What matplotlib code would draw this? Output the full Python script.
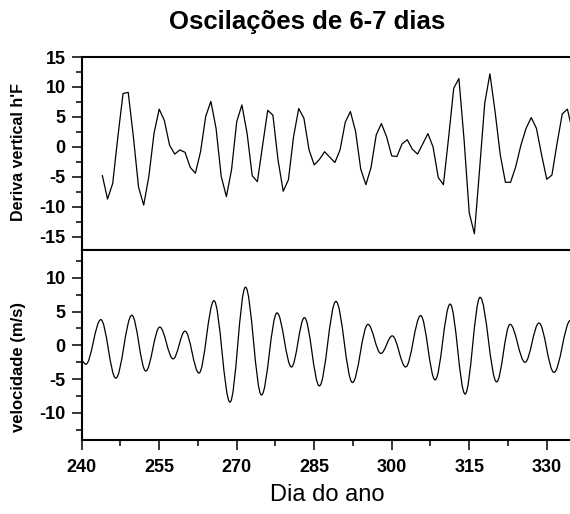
import matplotlib
matplotlib.use("Agg")
import matplotlib.pyplot as plt
from matplotlib.path import Path
from matplotlib.patches import PathPatch
from matplotlib.ticker import MultipleLocator

# ---- data ----
# top panel: daily h'F vertical drift (filtered)
drift_days = list(range(244, 336))
drift_vals = [-4.8, -8.7, -6.1, 1.7, 8.9, 9.1, 1.7, -6.7, -9.7, -4.9,
              2.3, 6.3, 4.4, 0.3, -1.2, -0.5, -0.9, -3.4, -4.4, -0.8,
              5.1, 7.6, 3.1, -4.9, -8.3, -3.8, 4.2, 7.0, 2.3, -4.8,
              -5.8, 0.2, 6.1, 5.3, -2.2, -7.4, -5.5, 1.7, 6.4, 4.8,
              -0.5, -3.0, -2.1, -0.8, -1.7, -2.6, -0.5, 4.1, 5.9, 2.6,
              -3.7, -6.3, -3.4, 2.0, 3.9, 1.7, -1.5, -1.6, 0.5, 1.2,
              -0.4, -1.2, 0.5, 2.2, 0.0, -5.1, -6.3, 1.5, 9.8, 11.4,
              1.2, -11.0, -14.5, -3.8, 7.3, 12.2, 5.9, -1.3, -5.9, -5.9,
              -3.3, 0.3, 3.1, 4.9, 3.1, -1.3, -5.4, -4.7, 0.6, 5.5,
              6.3, 2.5]

# bottom panel: wind velocity, turning points of the smooth curve
vel_days = [240.0, 240.8, 243.7, 246.6, 249.7, 252.4, 255.1, 257.7, 260.0,
            262.7, 265.6, 268.7, 271.7, 274.8, 277.8, 280.6, 283.1, 286.0,
            289.2, 292.4, 295.4, 297.9, 300.1, 302.7, 305.6, 308.4, 311.3,
            314.2, 317.1, 320.3, 322.9, 325.8, 328.5, 331.4, 334.6]
vel_vals = [-2.3, -2.8, 3.8, -4.85, 4.45, -3.8, 2.7, -2.0, 2.1,
            -4.1, 6.6, -8.4, 8.6, -7.35, 4.8, -3.2, 4.1, -6.0,
            6.5, -5.5, 3.1, -1.2, 1.4, -3.2, 4.4, -5.1, 6.1,
            -7.2, 7.1, -5.4, 3.1, -2.5, 3.3, -4.0, 3.7]

x_ticks = [240, 255, 270, 285, 300, 315, 330]
top_yticks = [-15, -10, -5, 0, 5, 10, 15]
bot_yticks = [-10, -5, 0, 5, 10]

title = "Oscilações de 6-7 dias"
top_ylabel = "Deriva vertical h'F"
bot_ylabel = "velocidade (m/s)"
xlabel = "Dia do ano"

# ---- figure ----
plt.rcParams['font.family'] = ['Liberation Sans', 'DejaVu Sans']
plt.rcParams['axes.unicode_minus'] = False
W, H = 570, 514
fig = plt.figure(figsize=(W / 100, H / 100), dpi=100)

left = 81.7 / W
ax1 = fig.add_axes([left, 1 - 250 / H, 1 - left, (250 - 57) / H])
ax2 = fig.add_axes([left, 1 - 440 / H, 1 - left, (440 - 250) / H], sharex=ax1)

ax1.plot(drift_days, drift_vals, color='black', lw=0.9)

# smooth curve through turning points (horizontal tangents) as Bezier path
k = 0.36
verts = [(vel_days[0], vel_vals[0])]
codes = [Path.MOVETO]
for i in range(1, len(vel_days)):
    x0, y0 = vel_days[i - 1], vel_vals[i - 1]
    x1, y1 = vel_days[i], vel_vals[i]
    dx = x1 - x0
    verts += [(x0 + k * dx, y0), (x1 - k * dx, y1), (x1, y1)]
    codes += [Path.CURVE4] * 3
ax2.add_patch(PathPatch(Path(verts, codes), facecolor='none',
                        edgecolor='black', lw=0.9))

ax1.set_xlim(240, 334.5)
ax1.set_ylim(-17.2, 15)
ax2.set_ylim(-14, 14.1)

for ax in (ax1, ax2):
    ax.spines['right'].set_visible(False)
    for s in ('left', 'top', 'bottom'):
        ax.spines[s].set_linewidth(1.5)
    ax.xaxis.set_major_locator(MultipleLocator(15))
    ax.xaxis.set_minor_locator(MultipleLocator(7.5))
    ax.yaxis.set_major_locator(MultipleLocator(5))
    ax.yaxis.set_minor_locator(MultipleLocator(2.5))
    ax.tick_params(which='major', direction='out', length=7.5, width=1.1,
                   labelsize=13, pad=4)
    ax.tick_params(which='minor', direction='out', length=4, width=1.1)

ax1.set_yticks(top_yticks)
ax2.set_yticks(bot_yticks)
ax1.tick_params(axis='x', labelbottom=False)
ax2.set_xticks(x_ticks)
ax2.tick_params(axis='x', pad=6)
for ax in (ax1, ax2):
    for lab in ax.get_yticklabels() + ax.get_xticklabels():
        lab.set_fontweight('bold')

fig.text(307 / W, 1 - 22 / H, title, ha='center', va='center',
         fontsize=18.5, fontweight='bold')
fig.text(19 / W, 1 - 152 / H, top_ylabel, rotation=90, ha='center',
         va='center', fontsize=11.5, fontweight='bold')
fig.text(19 / W, 1 - 367 / H, bot_ylabel, rotation=90, ha='center',
         va='center', fontsize=12, fontweight='bold')
fig.text(327 / W, 1 - 495 / H, xlabel, ha='center', va='center',
         fontsize=17)

fig.savefig("out.png", dpi=100)
